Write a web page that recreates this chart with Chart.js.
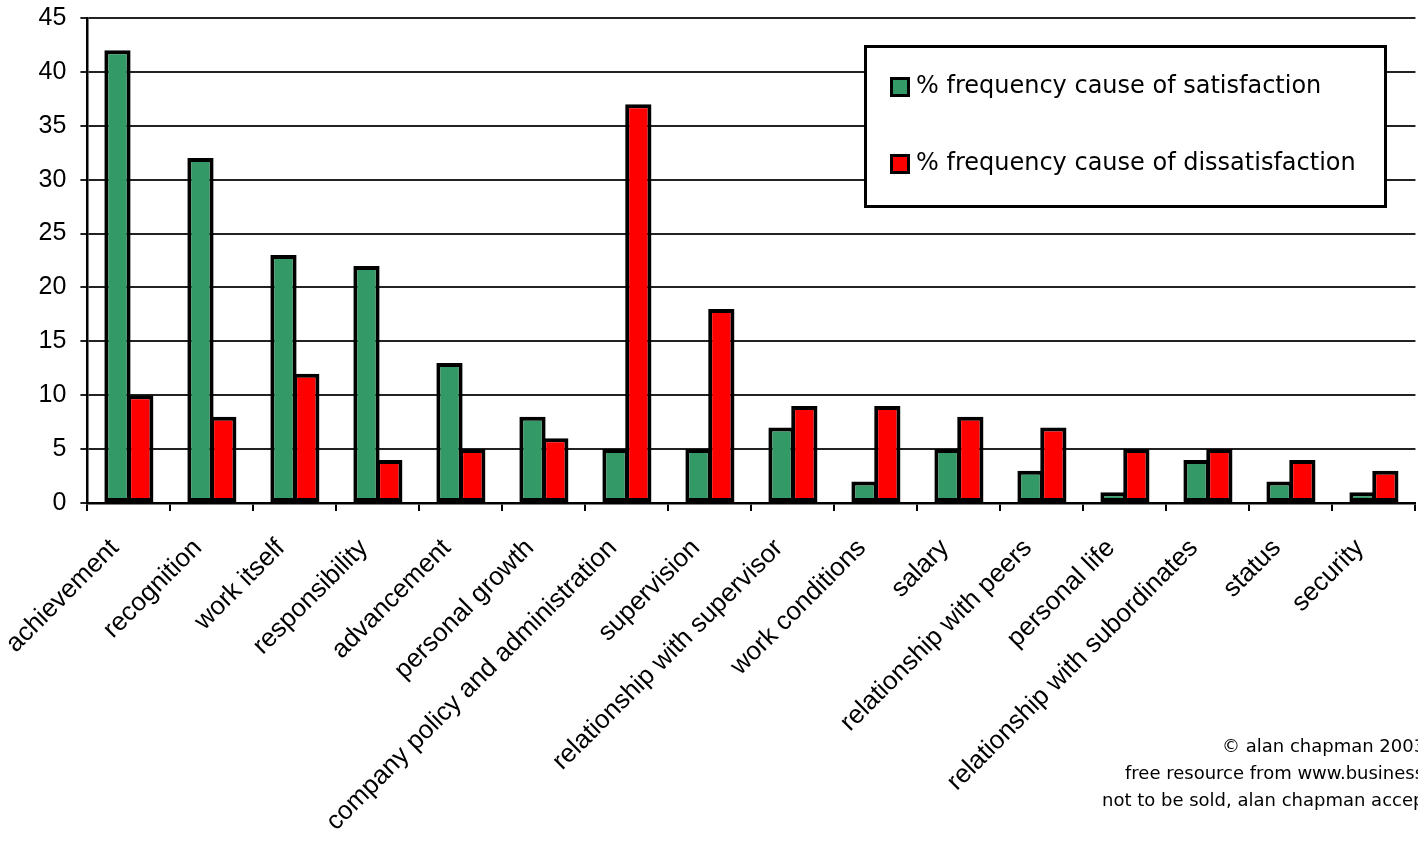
<!DOCTYPE html>
<html lang="en">
<head>
<meta charset="UTF-8">
<title>Causes of satisfaction and dissatisfaction</title>
<script src="https://cdn.jsdelivr.net/npm/chart.js"></script>
<style>
  body { margin: 0; background: #fff; }
  canvas { display: block; }
</style>
</head>
<body>
<canvas id="chart" width="1418" height="845"></canvas>
<script>
// data
const factors = [
  'achievement', 'recognition', 'work itself', 'responsibility', 'advancement',
  'personal growth', 'company policy and administration', 'supervision',
  'relationship with supervisor', 'work conditions', 'salary',
  'relationship with peers', 'personal life', 'relationship with subordinates',
  'status', 'security'
];
const satisfaction    = [42, 32, 23, 22, 13, 8, 5, 5, 7, 2, 5, 3, 1, 4, 2, 1];
const dissatisfaction = [10, 8, 12, 4, 5, 6, 37, 18, 9, 9, 8, 7, 5, 5, 4, 3];
const yMin = 0, yMax = 45, yStep = 5;
const seriesNames = ['% frequency cause of satisfaction', '% frequency cause of dissatisfaction'];
const creditLines = [
  '\u00a9 alan chapman 2003',
  'free resource from www.businessballs.com',
  'not to be sold, alan chapman accepts no liability'
];

const green = '#339966';
const red = '#ff0000';

// boxed legend + credit text drawn on top
const boxLegend = {
  id: 'boxLegend',
  afterDraw(chart) {
    const ctx = chart.ctx;
    ctx.save();
    ctx.fillStyle = '#fff';
    ctx.fillRect(865, 46, 520, 160);
    ctx.lineWidth = 3;
    ctx.strokeStyle = '#000';
    ctx.strokeRect(865.5, 46.5, 520, 160);

    ctx.font = '24px "DejaVu Sans"';
    ctx.textBaseline = 'middle';
    chart.data.datasets.forEach((ds, i) => {
      const y = 87 + i * 77;
      ctx.fillStyle = ds.backgroundColor;
      ctx.fillRect(890, y - 10, 20, 20);
      ctx.strokeRect(891.5, y - 8.5, 17, 17);
      ctx.fillStyle = '#000';
      ctx.fillText(ds.label, 916, y);
    });

    ctx.font = '18px "DejaVu Sans"';
    const xs = [1222, 1125, 1102];
    creditLines.forEach((t, i) => {
      ctx.fillText(t, xs[i], 747 + i * 27);
    });
    ctx.restore();
  }
};

new Chart(document.getElementById('chart'), {
  type: 'bar',
  data: {
    labels: factors,
    datasets: [
      { label: seriesNames[0], data: satisfaction, backgroundColor: green },
      { label: seriesNames[1], data: dissatisfaction, backgroundColor: red }
    ]
  },
  options: {
    responsive: false,
    animation: false,
    layout: { padding: { top: 18, right: 0, left: 0, bottom: 0 } },
    datasets: {
      bar: {
        borderColor: '#000',
        borderWidth: 4,
        borderSkipped: false,
        categoryPercentage: 0.55,
        barPercentage: 1.15
      }
    },
    plugins: {
      legend: { display: false },
      tooltip: { enabled: false }
    },
    scales: {
      x: {
        grid: {
          display: true,
          drawOnChartArea: false,
          drawTicks: true,
          offset: true,
          tickLength: 8,
          color: '#000',
          lineWidth: 2
        },
        border: { color: '#000', width: 2.5 },
        ticks: {
          autoSkip: false,
          minRotation: 45,
          maxRotation: 45,
          padding: 22,
          labelOffset: -14,
          color: '#000',
          font: { family: '"Liberation Sans", Arial', size: 26 }
        },
        afterFit(scale) { scale.height = 342; }
      },
      y: {
        min: yMin,
        max: yMax,
        grid: { color: '#222', lineWidth: 2, tickLength: 7 },
        border: { color: '#000', width: 2.5 },
        ticks: {
          stepSize: yStep,
          padding: 14,
          color: '#000',
          font: { family: '"Liberation Sans", Arial', size: 25 }
        },
        afterFit(scale) {
          scale.width = 87;
          scale.paddingTop = 0;
          scale.paddingBottom = 0;
        }
      }
    }
  },
  plugins: [boxLegend]
});
</script>
</body>
</html>
